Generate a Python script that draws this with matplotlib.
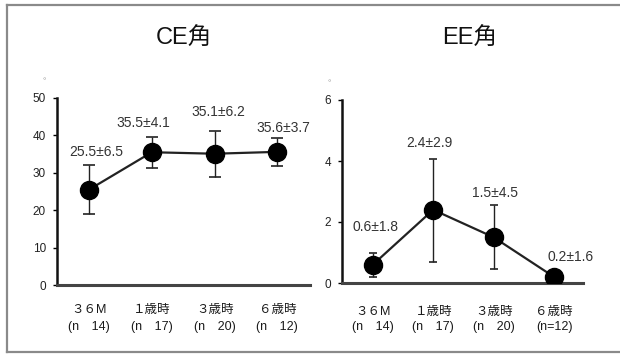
import matplotlib.pyplot as plt
from matplotlib.lines import Line2D

plt.rcParams['font.family'] = ['Liberation Sans', 'Noto Sans CJK JP']

# 時期と症例数
periods = ['３６M', '１歳時', '３歳時', '６歳時']
n_ce = ['(n　14)', '(n　17)', '(n　20)', '(n　12)']
n_ee = ['(n　14)', '(n　17)', '(n　20)', '(n=12)']

# CE角 平均±SD
ce_mean = [25.5, 35.5, 35.1, 35.6]
ce_sd = [6.5, 4.1, 6.2, 3.7]

# EE角 平均±SD と図中のエラーバー
ee_mean = [0.6, 2.4, 1.5, 0.2]
ee_sd = [1.8, 2.9, 4.5, 1.6]
ee_err_lo = [0.4, 1.7, 1.05, 0.0]
ee_err_hi = [0.4, 1.65, 1.05, 0.0]

W, H = 620, 355


def px_axes(left, top, right, bottom):
    # ピクセル座標 -> figure座標
    return [left / W, 1 - bottom / H, (right - left) / W, (bottom - top) / H]


def panel(ax, mean, lo, hi, sd, yticks, ylim, xlim, lab_off, n_lab, cat_off, cap):
    x = list(range(len(mean)))
    ax.errorbar(x, mean, yerr=[lo, hi], fmt='none', ecolor='#222222',
                elinewidth=1.0, capsize=cap, capthick=1.2, zorder=2)
    ax.plot(x, mean, '-', color='#222222', lw=1.6, zorder=3)
    ax.plot(x, mean, 'o', color='black', ms=13, zorder=4)

    for i, (m, s) in enumerate(zip(mean, sd)):
        ax.annotate(f'{m}±{s}', (i, m), xytext=lab_off[i], textcoords='offset points',
                    ha='center', va='center', fontsize=10, color='#333333')

    for i in x:
        ax.annotate(periods[i], (i, 0), xycoords=('data', 'axes fraction'),
                    xytext=(0, cat_off[0]), textcoords='offset points',
                    ha='center', va='center', fontsize=9, color='#1a1a1a')
        ax.annotate(n_lab[i], (i, 0), xycoords=('data', 'axes fraction'),
                    xytext=(0, cat_off[1]), textcoords='offset points',
                    ha='center', va='center', fontsize=9, color='#1a1a1a')

    ax.set_xlim(*xlim)
    ax.set_ylim(*ylim)
    ax.set_yticks(yticks)
    ax.set_xticks([])
    ax.tick_params(axis='y', length=3, width=1, direction='out', pad=5,
                   labelsize=8.5, labelcolor='#222222')
    for s in ['top', 'right']:
        ax.spines[s].set_visible(False)
    ax.spines['left'].set_lw(1.8)
    ax.spines['left'].set_color('#111111')
    ax.spines['bottom'].set_lw(2.2)
    ax.spines['bottom'].set_color('#444444')
    ax.patch.set_alpha(0)
    # 単位（度）の記号
    ax.annotate('°', (0, 1), xycoords='axes fraction', xytext=(-9, 12),
                textcoords='offset points', ha='center', va='center',
                fontsize=6, color='#999999')


fig = plt.figure(figsize=(W / 100, H / 100), dpi=100, facecolor='white')

ax1 = fig.add_axes(px_axes(57, 98, 310, 285))
panel(ax1, ce_mean, ce_sd, ce_sd, ce_sd, [0, 10, 20, 30, 40, 50], (0, 50),
      (-0.51, 3.52), [(5, 27), (-6, 21), (3, 30), (4, 17)], n_ce, (-18, -30), 4)

ax2 = fig.add_axes(px_axes(342, 100, 583, 283))
panel(ax2, ee_mean, ee_err_lo, ee_err_hi, ee_sd, [0, 2, 4, 6], (0, 6),
      (-0.51, 3.48), [(2, 27), (-3, 48), (1, 32), (12, 14)], n_ee, (-21, -32), 3)

fig.text(184 / W, 1 - 38 / H, 'CE角', ha='center', va='center', fontsize=17, color='#111111')
fig.text(470 / W, 1 - 38 / H, 'EE角', ha='center', va='center', fontsize=17, color='#111111')

# 外枠
frame = dict(color='#8a8a8a', lw=1.6, transform=fig.transFigure)
fig.add_artist(Line2D([7 / W, 7 / W], [1 - 352 / H, 1 - 5 / H], **frame))
fig.add_artist(Line2D([7 / W, 1], [1 - 5 / H, 1 - 5 / H], **frame))
fig.add_artist(Line2D([7 / W, 1], [1 - 352 / H, 1 - 352 / H], **frame))

fig.savefig('out.png', dpi=100, facecolor='white')
